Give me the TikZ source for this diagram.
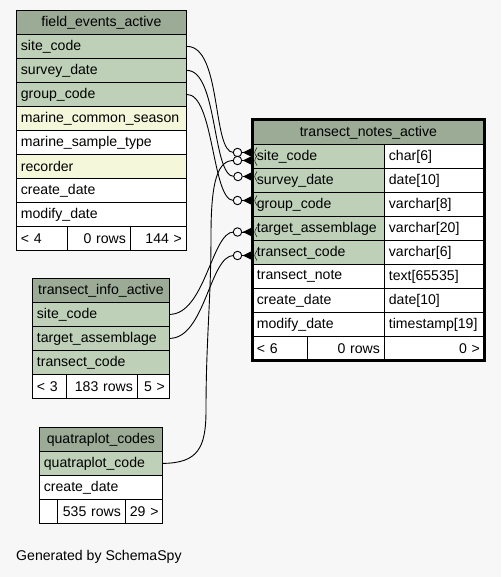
\documentclass[tikz,border=0pt]{standalone}
\usepackage{fontspec}
\setmainfont{Liberation Sans}
\definecolor{hdr}{HTML}{9BAB96}
\definecolor{key}{HTML}{BED1B8}
\definecolor{idx}{HTML}{F4F7DA}
\definecolor{bg}{HTML}{F7F7F7}
\tikzset{
  cellbox/.style={draw=black, line width=0.8pt, anchor=north west, inner xsep=4.5pt, inner ysep=0pt,
    minimum height=24pt, font=\fontsize{14.1}{17}\selectfont},
  odot/.style={circle, draw=black, fill=bg, line width=0.9pt, minimum size=8.5pt, inner sep=0pt},
  rel/.style={draw=black, line width=0.9pt},
  thickframe/.style={draw=black, line width=3pt},
  gentext/.style={anchor=west, inner sep=0pt, font=\fontsize{14.1}{17}\selectfont}
}
\newcommand\tcell[7]{\node[cellbox, fill=#5, align=#6, text width=\the\numexpr#4-9\relax pt] (#1) at (#2,#3) {\mbox{#7}};}
\newcommand\crowfoot[2]{%
  \draw[rel] (#1.east) -- (#2);
  \fill[black] ([xshift=0.5pt]#1.east) -- ([xshift=1pt,yshift=5pt]#2) -- ([xshift=2pt]#2) -- ([xshift=1pt,yshift=-5pt]#2) -- cycle;
  \draw[black, line width=0.5pt] ([xshift=5pt,yshift=5pt]#2) .. controls ([xshift=2pt]#2) .. ([xshift=5pt,yshift=-5pt]#2);
}
\begin{document}
\begin{tikzpicture}[x=1pt,y=-1pt]
\fill[bg] (0,0) rectangle (501,577);
\useasboundingbox (0,0) rectangle (501,577);

% field_events_active
\tcell{feT}{16}{10}{170}{hdr}{center}{field\_events\_active}
\tcell{feSite}{16}{34}{170}{key}{left}{site\_code}
\tcell{feSurvey}{16}{58}{170}{key}{left}{survey\_date}
\tcell{feGroup}{16}{82}{170}{key}{left}{group\_code}
\tcell{feMcs}{16}{106}{170}{idx}{left}{marine\_common\_season}
\tcell{feMst}{16}{130}{170}{white}{left}{marine\_sample\_type}
\tcell{feRec}{16}{154}{170}{idx}{left}{recorder}
\tcell{feCre}{16}{178}{170}{white}{left}{create\_date}
\tcell{feMod}{16}{202}{170}{white}{left}{modify\_date}
\tcell{feF1}{16}{226}{51}{white}{left}{< 4}
\tcell{feF2}{67}{226}{63}{white}{right}{0 rows}
\tcell{feF3}{130}{226}{56}{white}{right}{144 >}

% transect_notes_active
\tcell{tnT}{252}{120}{232}{hdr}{center}{transect\_notes\_active}
\tcell{tnSite}{252}{144}{132}{key}{left}{site\_code}
\tcell{tnSiteT}{384}{144}{100}{white}{left}{char[6]}
\tcell{tnSurvey}{252}{168}{132}{key}{left}{survey\_date}
\tcell{tnSurveyT}{384}{168}{100}{white}{left}{date[10]}
\tcell{tnGroup}{252}{192}{132}{key}{left}{group\_code}
\tcell{tnGroupT}{384}{192}{100}{white}{left}{varchar[8]}
\tcell{tnTarget}{252}{216}{132}{key}{left}{target\_assemblage}
\tcell{tnTargetT}{384}{216}{100}{white}{left}{varchar[20]}
\tcell{tnTrans}{252}{240}{132}{key}{left}{transect\_code}
\tcell{tnTransT}{384}{240}{100}{white}{left}{varchar[6]}
\tcell{tnNote}{252}{264}{132}{white}{left}{transect\_note}
\tcell{tnNoteT}{384}{264}{100}{white}{left}{text[65535]}
\tcell{tnCre}{252}{288}{132}{white}{left}{create\_date}
\tcell{tnCreT}{384}{288}{100}{white}{left}{date[10]}
\tcell{tnMod}{252}{312}{132}{white}{left}{modify\_date}
\tcell{tnModT}{384}{312}{100}{white}{left}{timestamp[19]}
\tcell{tnF1}{252}{336}{55}{white}{left}{< 6}
\tcell{tnF2}{307}{336}{77}{white}{right}{0 rows}
\tcell{tnF3}{384}{336}{100}{white}{right}{0 >}
\draw[thickframe] (tnT.north west) rectangle (tnF3.south east);

% transect_info_active
\tcell{tiT}{32}{278}{137}{hdr}{center}{transect\_info\_active}
\tcell{tiSite}{32}{302}{137}{key}{left}{site\_code}
\tcell{tiTarget}{32}{326}{137}{key}{left}{target\_assemblage}
\tcell{tiTrans}{32}{350}{137}{key}{left}{transect\_code}
\tcell{tiF1}{32}{374}{34}{white}{left}{< 3}
\tcell{tiF2}{66}{374}{71}{white}{right}{183 rows}
\tcell{tiF3}{137}{374}{32}{white}{right}{5 >}

% quatraplot_codes
\tcell{qcT}{39}{427}{123}{hdr}{center}{quatraplot\_codes}
\tcell{qcCode}{39}{451}{123}{key}{left}{quatraplot\_code}
\tcell{qcCre}{39}{475}{123}{white}{left}{create\_date}
\tcell{qcF1}{39}{499}{18}{white}{left}{}
\tcell{qcF2}{57}{499}{68}{white}{right}{535 rows}
\tcell{qcF3}{125}{499}{37}{white}{right}{29 >}

% connectors
\draw[rel] (feSite.east) .. controls (222,46) and (212,152.5) .. (233.5,152.5);
\draw[rel] (feSurvey.east) .. controls (218,70) and (212,176.5) .. (234,176.5);
\draw[rel] (feGroup.east) .. controls (214,94) and (212,200.5) .. (233.5,200.5);
\draw[rel] (qcCode.east) .. controls (198,463) and (206,448) .. (206,410)
   .. controls (206,340) and (211,300) .. (211,235)
   .. controls (211,180) and (218,160.5) .. (233.5,160.5);
\draw[rel] (tiSite.east) .. controls (205,314) and (212,232) .. (233.5,232);
\draw[rel] (tiTarget.east) .. controls (205,338) and (210,255.5) .. (233.5,255.5);

\node[odot] (o1) at (237.5,152.5) {};
\node[odot] (o2) at (237.5,160.5) {};
\node[odot] (o3) at (238,176.5) {};
\node[odot] (o4) at (237.5,200.5) {};
\node[odot] (o5) at (237.5,232) {};
\node[odot] (o6) at (237.5,255.5) {};

\coordinate (k1) at (tnSite.west |- o1);
\coordinate (k2) at (tnSite.west |- o2);
\coordinate (k3) at (tnSurvey.west |- o3);
\coordinate (k4) at (tnGroup.west |- o4);
\coordinate (k5) at (tnTarget.west |- o5);
\coordinate (k6) at (tnTrans.west |- o6);
\crowfoot{o1}{k1}
\crowfoot{o2}{k2}
\crowfoot{o3}{k3}
\crowfoot{o4}{k4}
\crowfoot{o5}{k5}
\crowfoot{o6}{k6}

\node[gentext] (gen) at (16,557) {Generated by SchemaSpy};
\end{tikzpicture}
\end{document}
